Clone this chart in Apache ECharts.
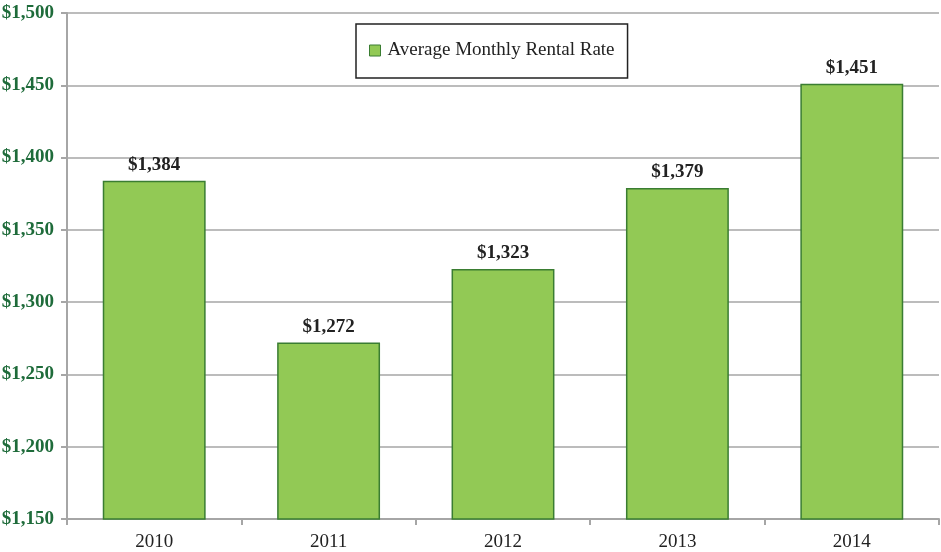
<!DOCTYPE html>
<html><head><meta charset="utf-8">
<script src="https://cdn.jsdelivr.net/npm/echarts@6/dist/echarts.min.js"></script>
<style>html,body{margin:0;padding:0;background:#fff}#c{width:941px;height:552px}</style>
</head><body><div id="c"></div>
<script>
const categories = ['2010','2011','2012','2013','2014'];
const rentValues = [1384, 1272, 1323, 1379, 1451];
const seriesName = 'Average Monthly Rental Rate';
const yMin = 1150, yMax = 1500, yStep = 50;

const chart = echarts.init(document.getElementById('c'));
const fmt = v => '$' + v.toLocaleString('en-US');
chart.setOption({
  animation: false,
  grid: {left: 67, right: 2, top: 13, bottom: 33, outerBoundsMode: 'none', containLabel: false},
  legend: {
    data: [{name: seriesName, icon: 'rect'}], top: 24, left: 356,
    padding: [17, 13, 18, 13],
    borderColor: '#222', borderWidth: 1.5,
    itemWidth: 11, itemHeight: 11, itemGap: 8,
    itemStyle: {borderColor: '#3a7d32', borderWidth: 1},
    textStyle: {fontFamily: 'Liberation Serif', fontSize: 19, color: '#222', padding: [0, 0, 0, 2]}
  },
  xAxis: {
    type: 'category', data: categories,
    axisLine: {lineStyle: {color: '#a6a6a6', width: 2}},
    axisTick: {show: true, length: 6, lineStyle: {color: '#a6a6a6', width: 2}},
    axisLabel: {fontFamily: 'Liberation Serif', fontSize: 19, color: '#222', margin: 14}
  },
  yAxis: {
    type: 'value', min: yMin, max: yMax, interval: yStep,
    axisLine: {show: true, lineStyle: {color: '#a6a6a6', width: 2}},
    axisTick: {show: true, length: 6, lineStyle: {color: '#a6a6a6', width: 2}},
    splitLine: {lineStyle: {color: '#a6a6a6', width: 1.5}},
    axisLabel: {fontFamily: 'Liberation Serif', fontSize: 19, fontWeight: 'bold', color: '#1e6b3a', margin: 13, formatter: fmt}
  },
  series: [{
    name: seriesName, type: 'bar', data: rentValues,
    barWidth: '59%',
    itemStyle: {color: '#92c955', borderColor: '#3a7d32', borderWidth: 1.5},
    label: {show: true, position: 'top', distance: 6, formatter: p => fmt(p.value),
      fontFamily: 'Liberation Serif', fontSize: 19, fontWeight: 'bold', color: '#222'}
  }]
});
</script></body></html>
